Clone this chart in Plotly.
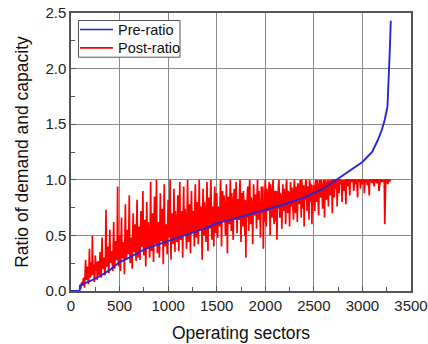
import plotly.graph_objects as go

# Pre-ratio (sorted demand/capacity)
pre_x = [0, 90, 93, 150, 200, 300, 400, 500, 600, 700, 800, 900, 1000, 1200, 1400,
         1500, 1600, 1800, 2000, 2200, 2400, 2500, 2600, 2700, 2800, 2900, 3000,
         3100, 3160, 3200, 3230, 3258, 3271, 3282, 3292]
pre_y = [0.0, 0.0, 0.05, 0.07, 0.09, 0.135, 0.19, 0.26, 0.30, 0.35, 0.39, 0.42, 0.45,
         0.51, 0.57, 0.61, 0.63, 0.68, 0.73, 0.78, 0.84, 0.88, 0.92, 0.98, 1.04,
         1.10, 1.16, 1.25, 1.36, 1.45, 1.54, 1.66, 1.87, 2.17, 2.43]

# Post-ratio samples at sectors 100, 110, 120, ...
post_y_a = [
    0.02, 0.08, 0.05, 0.12, 0.03, 0.28, 0.10, 0.22, 0.06, 0.38, 0.12, 0.26, 0.50, 0.15, 0.08, 0.32, 0.18, 0.10, 0.27, 0.14,
    0.35, 0.12, 0.48, 0.20, 0.30, 0.14, 0.73, 0.22, 0.40, 0.16, 0.55, 0.25, 0.36, 0.18, 0.62, 0.20, 0.45, 0.28, 0.94, 0.22,
    0.50, 0.18, 0.66, 0.30, 0.42, 0.15, 0.78, 0.28, 0.55, 0.33, 0.86, 0.25, 0.48, 0.20, 0.70, 0.35, 0.60, 0.27, 0.82, 0.30,
    0.58, 0.28, 0.72, 0.40, 0.90, 0.32, 0.64, 0.22, 0.80, 0.38, 0.52, 0.30, 0.98, 0.36, 0.70, 0.26, 0.85, 0.42, 1.00, 0.34,
    0.62, 0.30, 0.88, 0.45, 0.74, 0.24, 0.96, 0.40, 0.58, 0.33, 0.82, 0.48, 1.00, 0.28, 0.70, 0.42, 0.92, 0.35, 0.66, 0.44,
    0.86, 0.36, 0.98, 0.46, 0.72, 0.30, 0.94, 0.50, 0.64, 0.38, 1.00, 0.44, 0.78, 0.34, 0.90, 0.52, 0.70, 0.40, 0.96, 0.48,
    0.80, 0.42, 1.00, 0.55, 0.74, 0.28, 0.92, 0.50, 0.68, 0.44, 0.98, 0.36, 0.84, 0.56, 1.00, 0.46, 0.76, 0.40, 0.94, 0.52,
    0.88, 0.48, 0.72, 0.58, 1.00, 0.40, 0.90, 0.62, 0.80, 0.50, 0.96, 0.34, 0.84, 0.60, 1.00, 0.54, 0.76, 0.46, 0.92, 0.64,
    0.98, 0.52, 0.82, 0.64, 1.00, 0.44, 0.88, 0.58, 0.74, 0.50, 0.30, 0.66, 0.94, 0.54, 1.00, 0.60, 0.80, 0.42, 0.96, 0.68,
    0.86, 0.56, 1.00, 0.64, 0.78, 0.48, 0.94, 0.70, 0.38, 0.62, 1.00, 0.58, 0.84, 0.72, 0.98, 0.50, 0.76, 0.66, 1.00, 0.60,
    0.90, 0.62, 0.46, 0.74, 1.00, 0.66, 0.84, 0.56, 0.96, 0.72, 0.80, 0.60, 1.00, 0.70, 0.88, 0.58, 0.98, 0.76, 0.82, 0.64,
    1.00, 0.70, 0.86, 0.62, 0.94, 0.78, 1.00, 0.66, 0.90, 0.74, 0.58, 0.82, 1.00, 0.72, 0.92, 0.64, 0.98, 0.80, 0.60, 0.76,
    0.94, 0.72, 1.00, 0.80, 0.88, 0.68, 1.00, 0.84, 0.96, 0.74, 1.00, 0.66, 0.90, 0.82, 1.00, 0.76, 0.94, 0.86, 1.00, 0.70,
    1.00, 0.84, 1.00, 0.92, 0.76, 1.00, 0.88, 1.00, 0.96, 0.80, 1.00, 0.90, 1.00, 0.78, 1.00, 0.94, 1.00, 0.86, 1.00, 0.98,
    1.00, 0.90, 1.00, 0.96, 1.00, 0.84, 1.00, 1.00, 0.92, 1.00, 0.98, 1.00, 0.88, 1.00, 1.00, 0.95, 1.00, 0.86, 1.00, 1.00,
    1.00, 1.00, 0.94, 1.00, 1.00, 0.97, 1.00, 0.90, 1.00, 1.00, 0.98, 1.00, 1.00, 0.60, 1.00, 1.00, 0.96, 1.00, 1.00, 1.00,
]
# Post-ratio samples at sectors 105, 115, 125, ...
post_y_b = [
    0.04, 0.06, 0.10, 0.07, 0.15, 0.12, 0.18, 0.10, 0.20, 0.16, 0.22, 0.14, 0.19, 0.24, 0.12, 0.20, 0.26, 0.17, 0.21, 0.25,
    0.24, 0.30, 0.22, 0.28, 0.20, 0.34, 0.26, 0.30, 0.24, 0.38, 0.28, 0.33, 0.26, 0.42, 0.30, 0.36, 0.29, 0.40, 0.32, 0.37,
    0.34, 0.40, 0.30, 0.44, 0.36, 0.48, 0.33, 0.42, 0.38, 0.52, 0.36, 0.45, 0.40, 0.50, 0.38, 0.46, 0.42, 0.55, 0.40, 0.47,
    0.44, 0.50, 0.42, 0.56, 0.46, 0.60, 0.43, 0.52, 0.48, 0.62, 0.45, 0.54, 0.50, 0.58, 0.47, 0.64, 0.52, 0.56, 0.49, 0.60,
    0.50, 0.58, 0.48, 0.62, 0.54, 0.66, 0.50, 0.60, 0.56, 0.70, 0.52, 0.63, 0.55, 0.68, 0.53, 0.60, 0.58, 0.72, 0.54, 0.64,
    0.56, 0.64, 0.54, 0.70, 0.58, 0.66, 0.60, 0.74, 0.57, 0.68, 0.62, 0.76, 0.59, 0.66, 0.63, 0.72, 0.60, 0.78, 0.64, 0.70,
    0.62, 0.70, 0.60, 0.76, 0.64, 0.72, 0.66, 0.80, 0.63, 0.74, 0.68, 0.78, 0.65, 0.84, 0.70, 0.74, 0.67, 0.80, 0.71, 0.76,
    0.68, 0.76, 0.66, 0.82, 0.70, 0.78, 0.72, 0.86, 0.69, 0.80, 0.74, 0.84, 0.71, 0.78, 0.75, 0.88, 0.73, 0.82, 0.77, 0.80,
    0.74, 0.82, 0.72, 0.88, 0.76, 0.84, 0.78, 0.90, 0.75, 0.82, 0.80, 0.86, 0.77, 0.92, 0.79, 0.84, 0.81, 0.88, 0.78, 0.86,
    0.78, 0.86, 0.76, 0.90, 0.80, 0.88, 0.82, 0.94, 0.79, 0.86, 0.84, 0.92, 0.81, 0.88, 0.85, 0.96, 0.83, 0.90, 0.80, 0.88,
    0.82, 0.90, 0.80, 0.94, 0.84, 0.88, 0.86, 0.96, 0.83, 0.92, 0.88, 0.95, 0.85, 0.90, 0.87, 0.98, 0.86, 0.93, 0.84, 0.91,
    0.86, 0.94, 0.84, 0.97, 0.88, 0.92, 0.90, 1.00, 0.87, 0.95, 0.91, 0.98, 0.89, 0.94, 0.92, 1.00, 0.90, 0.96, 0.88, 0.95,
    0.90, 0.97, 0.88, 1.00, 0.92, 0.96, 0.94, 1.00, 0.91, 0.98, 0.95, 1.00, 0.93, 0.97, 0.96, 1.00, 0.94, 0.99, 0.92, 1.00,
    0.96, 1.00, 0.94, 1.00, 0.98, 0.92, 1.00, 0.97, 1.00, 0.95, 1.00, 0.98, 0.93, 1.00, 0.97, 1.00, 0.95, 1.00, 0.99, 1.00,
    1.00, 0.97, 1.00, 0.99, 0.95, 1.00, 1.00, 0.98, 1.00, 0.96, 1.00, 1.00, 0.97, 1.00, 0.99, 1.00, 0.98, 1.00, 1.00, 0.97,
    1.00, 0.99, 1.00, 1.00, 0.98, 1.00, 1.00, 0.96, 1.00, 1.00, 1.00, 0.99, 1.00, 0.97, 1.00, 1.00, 1.00, 0.98, 1.00, 1.00,
]
post_start = 100
post_step = 10

post_x, post_y = [], []
for i, (a, b) in enumerate(zip(post_y_a, post_y_b)):
    post_x += [post_start + post_step * i, post_start + post_step * i + post_step / 2]
    post_y += [a, b]

x_ticks = [0, 500, 1000, 1500, 2000, 2500, 3000, 3500]
y_ticks = [0.0, 0.5, 1.0, 1.5, 2.0, 2.5]
series_names = ["Pre-ratio", "Post-ratio"]
series_colors = ["#2a26d4", "#ff0000"]

fig = go.Figure()
fig.add_trace(go.Scatter(x=post_x, y=post_y, mode="lines", name=series_names[1],
                         line=dict(color=series_colors[1], width=1.7), showlegend=False))
fig.add_trace(go.Scatter(x=pre_x, y=pre_y, mode="lines", name=series_names[0],
                         line=dict(color=series_colors[0], width=1.9), showlegend=False))

font_family = "Liberation Sans, Arial, sans-serif"
axis_common = dict(
    showline=True, linecolor="#555555", linewidth=1.5, mirror=True,
    showgrid=True, gridcolor="#8a8a8a", gridwidth=1,
    ticks="inside", ticklen=5, tickcolor="#555555",
    zeroline=False, automargin=False,
    tickfont=dict(family=font_family, size=15, color="#222222"),
)

fig.update_xaxes(range=[0, 3500], tickvals=x_ticks,
                 ticktext=[str(v) for v in x_ticks],
                 minor=dict(dtick=250, ticks="inside", ticklen=4, tickcolor="#555555", showgrid=False),
                 title=dict(text="Operating sectors", font=dict(family=font_family, size=17.5, color="#111111"), standoff=14),
                 **axis_common)
fig.update_yaxes(range=[0, 2.5], tickvals=y_ticks,
                 ticktext=[f"{v:.1f}" for v in y_ticks],
                 minor=dict(dtick=0.25, ticks="inside", ticklen=4, tickcolor="#555555", showgrid=False),
                 title=dict(text="Ratio of demand and capacity", font=dict(family=font_family, size=17.5, color="#111111"), standoff=12),
                 **axis_common)

# Legend box drawn inside the plot (paper coordinates)
legend_rows_y = [0.9404, 0.8744]
shapes = [dict(type="rect", xref="paper", yref="paper", x0=0.022, x1=0.3206, y0=0.841, y1=0.973,
               line=dict(color="#555555", width=1), fillcolor="white", layer="above")]
annotations = []
for name, color, yy in zip(series_names, series_colors, legend_rows_y):
    shapes.append(dict(type="line", xref="paper", yref="paper", x0=0.0265, x1=0.1235, y0=yy, y1=yy,
                       line=dict(color=color, width=1.6), layer="above"))
    annotations.append(dict(text=name, xref="paper", yref="paper", x=0.1338, y=yy,
                            xanchor="left", yanchor="middle", showarrow=False,
                            font=dict(family=font_family, size=14.5, color="#111111")))

fig.update_layout(
    width=428, height=344,
    margin=dict(l=71, r=17, t=13, b=53),
    paper_bgcolor="white", plot_bgcolor="white",
    showlegend=False,
    shapes=shapes, annotations=annotations,
)

fig.write_html("out.html")
